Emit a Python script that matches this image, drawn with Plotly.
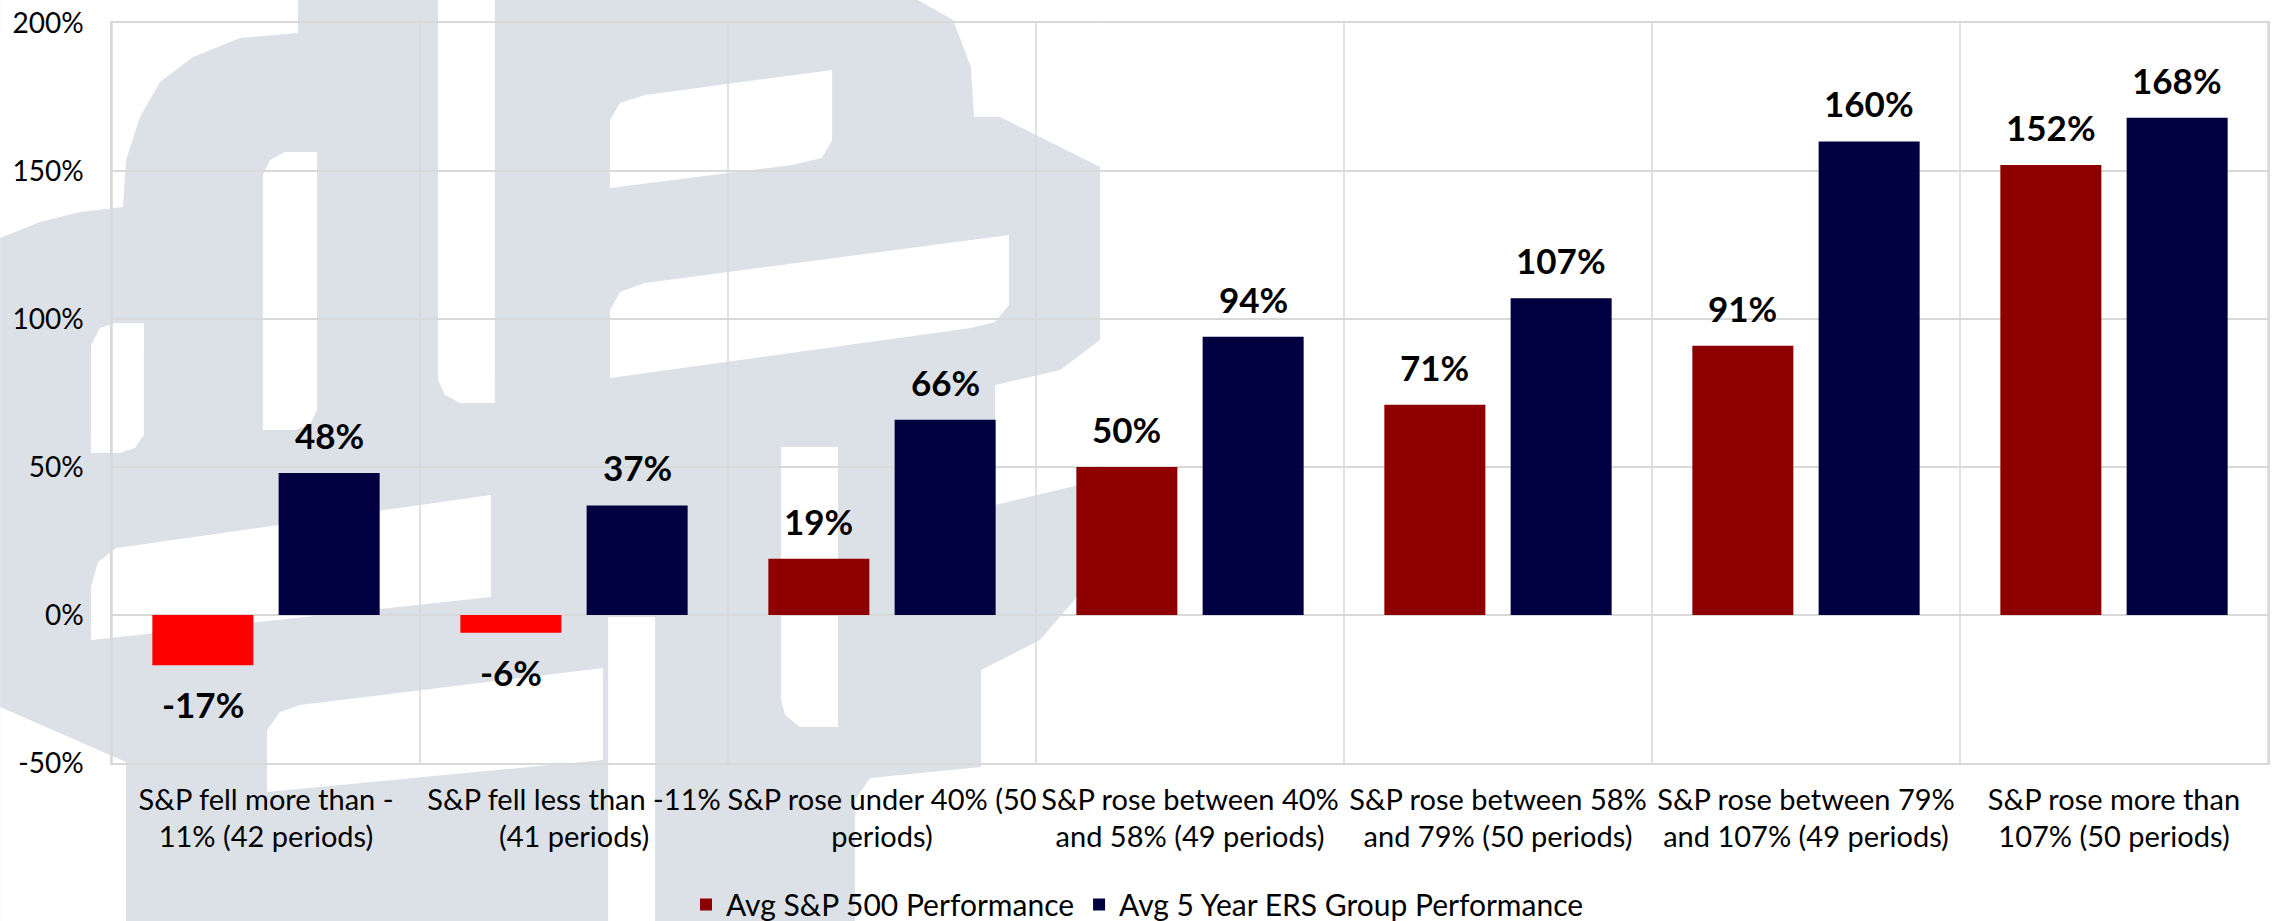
import plotly.graph_objects as go

categories = [
    "S&P fell more than -<br>11% (42 periods)",
    "S&P fell less than -11%<br>(41 periods)",
    "S&P rose under 40% (50<br>periods)",
    "S&P rose between 40%<br>and 58% (49 periods)",
    "S&P rose between 58%<br>and 79% (50 periods)",
    "S&P rose between 79%<br>and 107% (49 periods)",
    "S&P rose more than<br>107% (50 periods)",
]
sp500 = [-17, -6, 19, 50, 71, 91, 152]
ers = [48, 37, 66, 94, 107, 160, 168]
series_names = ["Avg S&P 500 Performance", "Avg 5 Year ERS Group Performance"]
y_ticks = [-50, 0, 50, 100, 150, 200]

FONT = "Lato, 'Noto Sans', sans-serif"
DARK_RED = "#8E0000"
BRIGHT_RED = "#FF0000"
NAVY = "#000040"
GRID = "#D9D9D9"
WM = "#DCE0E7"
BARGAP = 0.18
BARGROUPGAP = 0.2

sp_colors = [BRIGHT_RED if v < 0 else DARK_RED for v in sp500]

fig = go.Figure()
fig.add_trace(go.Bar(
    x=categories, y=sp500, name=series_names[0], offsetgroup="sp",
    marker=dict(color=sp_colors, line=dict(width=0)), showlegend=False,
))
# legend entry with the dark red swatch (shares the S&P slot)
fig.add_trace(go.Bar(
    x=categories, y=[None] * len(categories), name=series_names[0], offsetgroup="sp",
    marker=dict(color=DARK_RED, line=dict(width=0)),
))
fig.add_trace(go.Bar(
    x=categories, y=ers, name=series_names[1], offsetgroup="ers",
    marker=dict(color=NAVY, line=dict(width=0)),
))

# value labels
slot = (1 - BARGAP) / 2
annotations = []
for series, off in ((sp500, -slot / 2), (ers, slot / 2)):
    for i, v in enumerate(series):
        annotations.append(dict(
            x=i + off, y=v, xref="x", yref="y", text=f"<b>{v}%</b>", showarrow=False,
            yanchor="bottom" if v >= 0 else "top", yshift=15 if v >= 0 else -16,
            font=dict(family=FONT, size=35, color="black"),
        ))

W, H = 2275, 921
L, R, T, B = 112, 2268, 23, 763


def px_path(points):
    pw, ph = R - L, B - T
    segs = []
    for i, (x, y) in enumerate(points):
        xp = (x - L) / pw
        yp = (B - y) / ph
        segs.append(("M" if i == 0 else "L") + f"{xp:.4f},{yp:.4f}")
    return " ".join(segs) + " Z"


shapes = []
# watermark: grey field with white cut-outs (approximation of the logo)
wm_grey = [
    [(0, 0), (1100, 0), (1100, 921), (0, 921)],
]
wm_white = [
    [(0, 0), (298, 0), (298, 33), (240, 38), (193, 57), (160, 82), (140, 117), (126, 160),
     (123, 207), (80, 212), (40, 222), (0, 238)],
    [(438, 0), (495, 0), (495, 403), (460, 403), (445, 395), (438, 380)],
    [(263, 175), (270, 160), (285, 152), (317, 152), (317, 410), (310, 425), (295, 430), (263, 430)],
    [(91, 345), (100, 328), (115, 323), (144, 323), (144, 435), (135, 448), (120, 453), (91, 453)],
    [(610, 120), (620, 103), (645, 95), (832, 70), (832, 140), (822, 158), (792, 165), (610, 188)],
    [(610, 310), (620, 292), (645, 283), (1009, 235), (1009, 305), (995, 322), (971, 328), (610, 378)],
    [(918, 0), (953, 20), (971, 67), (974, 117), (1000, 117), (1100, 167), (1100, 0)],
    [(995, 385), (1060, 370), (1100, 340), (1100, 480), (995, 505)],
    [(981, 670), (1040, 640), (1100, 570), (1100, 921), (855, 921), (855, 800), (870, 778), (981, 767)],
    [(91, 587), (98, 562), (116, 548), (491, 495), (491, 597), (91, 640)],
    [(0, 707), (126, 762), (126, 921), (0, 921)],
    [(267, 730), (280, 712), (300, 705), (603, 668), (603, 760), (267, 792)],
    [(608, 617), (655, 617), (655, 921), (608, 921)],
    [(781, 447), (838, 447), (838, 727), (800, 727), (785, 715), (781, 700)],
]
for poly in wm_grey:
    shapes.append(dict(type="path", path=px_path(poly), xref="paper", yref="paper",
                       fillcolor=WM, line=dict(width=0), layer="below"))
for poly in wm_white:
    shapes.append(dict(type="path", path=px_path(poly), xref="paper", yref="paper",
                       fillcolor="white", line=dict(width=0), layer="below"))

# vertical category separator gridlines
for i in range(len(categories) + 1):
    shapes.append(dict(type="line", xref="x", yref="paper", x0=i - 0.5, x1=i - 0.5,
                       y0=0, y1=1, line=dict(color=GRID, width=1.5), layer="below"))

fig.update_layout(
    width=W, height=H,
    margin=dict(l=L, r=W - R, t=T, b=H - B),
    paper_bgcolor="white", plot_bgcolor="rgba(0,0,0,0)",
    barmode="group", bargap=BARGAP, bargroupgap=BARGROUPGAP,
    font=dict(family=FONT, size=28, color="black"),
    shapes=shapes, annotations=annotations,
    showlegend=True,
    legend=dict(orientation="h", x=0.5, xanchor="center", xref="container",
                y=0.018, yref="container", yanchor="middle",
                font=dict(family=FONT, size=30, color="black"),
                itemwidth=30, tracegroupgap=0, bgcolor="rgba(0,0,0,0)"),
)
fig.update_xaxes(
    showgrid=False, showline=True, mirror=True, linecolor=GRID, linewidth=1.5,
    ticks="", tickfont=dict(family=FONT, size=29), range=[-0.5, 6.5],
    ticklabelstandoff=10, tickangle=0, automargin=False,
)
fig.update_yaxes(
    range=[-50, 200], tickvals=y_ticks, ticktext=[f"{v}%" for v in y_ticks],
    showgrid=True, gridcolor=GRID, gridwidth=1.5,
    zeroline=True, zerolinecolor=GRID, zerolinewidth=1.5,
    showline=True, mirror=True, linecolor=GRID, linewidth=1.5,
    ticks="", tickfont=dict(family=FONT, size=28), ticklabelstandoff=21,
    automargin=False,
)

fig.write_html("out.html")
